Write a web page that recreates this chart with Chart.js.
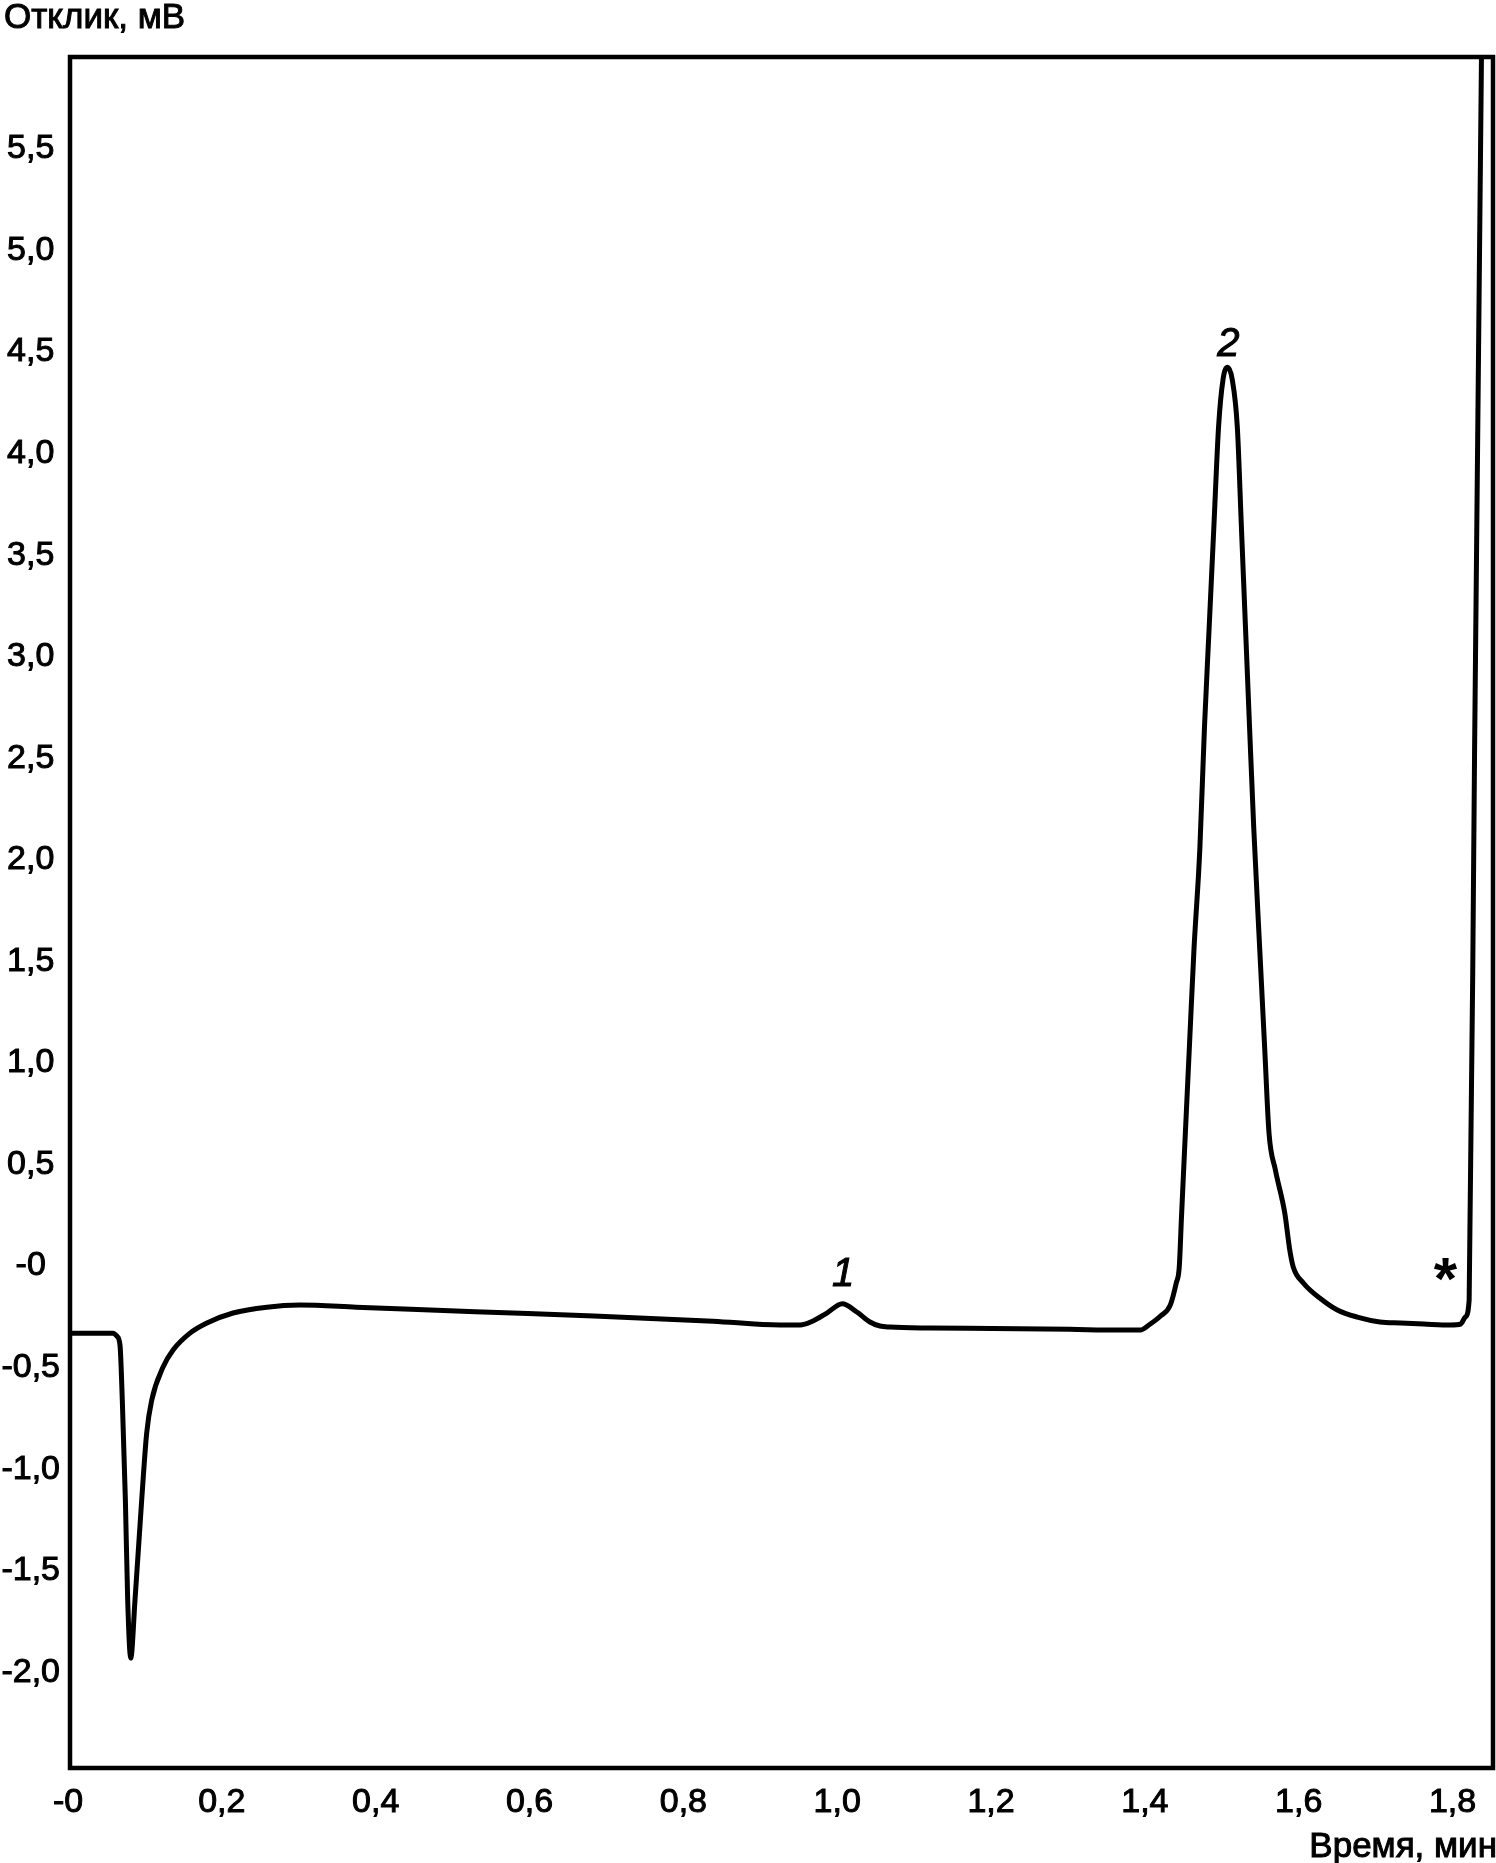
<!DOCTYPE html>
<html>
<head>
<meta charset="utf-8">
<title>Хроматограмма</title>
<script src="https://cdn.jsdelivr.net/npm/chart.js@4.4.1/dist/chart.umd.min.js"></script>
<style>
  html, body { margin: 0; padding: 0; background: #fff; }
  #wrap { width: 1496px; height: 1863px; }
</style>
</head>
<body>
<div id="wrap"><canvas id="chart" width="1496" height="1863"></canvas></div>
<script>
// ─── Data ────────────────────────────────────────────────────────────────────
const timeMin = [
  0, 0.039, 0.056, 0.061, 0.065, 0.068, 0.072, 0.075, 0.079, 0.0845,
  0.0932, 0.0997, 0.1062, 0.121, 0.134, 0.156, 0.178, 0.212, 0.256, 0.299,
  0.372, 0.527, 0.681, 0.836, 0.923, 0.949, 0.966, 0.984, 1.004, 1.023,
  1.040, 1.053, 1.066, 1.118, 1.200, 1.300, 1.360, 1.3914, 1.4044, 1.4174,
  1.4304, 1.4382, 1.4421, 1.4450, 1.4490, 1.4551, 1.4612, 1.4688, 1.4749, 1.4810,
  1.4871, 1.4932, 1.4990, 1.5050, 1.5110, 1.5176, 1.5229, 1.5282, 1.5335, 1.5389,
  1.5468, 1.5533, 1.5588, 1.5670, 1.5793, 1.5858, 1.5904, 1.6034, 1.6281, 1.6476,
  1.6736, 1.7030, 1.7300, 1.7600, 1.7950, 1.8080, 1.8140, 1.8190, 1.8260, 1.8350,
];
const responseMv = [
  -0.345, -0.345, -0.345, -0.360, -0.404, -0.675, -1.167, -1.660, -1.945, -1.660,
  -1.167, -0.837, -0.675, -0.512, -0.428, -0.345, -0.295, -0.246, -0.217, -0.207,
  -0.217, -0.240, -0.260, -0.286, -0.305, -0.305, -0.285, -0.246, -0.200, -0.241,
  -0.290, -0.310, -0.315, -0.320, -0.322, -0.326, -0.330, -0.330, -0.300, -0.262,
  -0.207, -0.098, -0.020, 0.226, 0.556, 1.049, 1.541, 2.033, 2.639, 3.131,
  3.624, 4.116, 4.350, 4.410, 4.350, 4.116, 3.624, 3.131, 2.639, 2.147,
  1.541, 1.049, 0.640, 0.460, 0.246, 0.064, -0.020, -0.098, -0.182, -0.231,
  -0.266, -0.290, -0.295, -0.300, -0.305, -0.300, -0.266, -0.182, 2.500, 5.938,
];

const xTicks = [0, 0.2, 0.4, 0.6, 0.8, 1.0, 1.2, 1.4, 1.6, 1.8];
const xTickLabels = ['-0', '0,2', '0,4', '0,6', '0,8', '1,0', '1,2', '1,4', '1,6', '1,8'];
const yTicks = [5.5, 5.0, 4.5, 4.0, 3.5, 3.0, 2.5, 2.0, 1.5, 1.0, 0.5, 0, -0.5, -1.0, -1.5, -2.0];
const yTickLabels = ['5,5', '5,0', '4,5', '4,0', '3,5', '3,0', '2,5', '2,0', '1,5', '1,0', '0,5', '-0', '-0,5', '-1,0', '-1,5', '-2,0'];

// peak marks: text and where it sits (time, response)
const peakNames = ['1', '2', '*'];
const peakNameTime = [1.005, 1.506, 1.788];
const peakNameResp = [-0.06, 4.52, -0.035];

const xTitle = 'Время, мин';
const yTitle = 'Отклик, мВ';

// ─── Style ───────────────────────────────────────────────────────────────────
const FONT = '"Liberation Sans", Arial, sans-serif';
const FONT_SIZE = 34;

function heavyText(ctx, text, x, y) {
  ctx.fillText(text, x, y);
  ctx.strokeText(text, x, y);
}

// frame round the plot + free texts
const framePlugin = {
  id: 'frame',
  afterDatasetsDraw(chart) {
    const { ctx, chartArea: a } = chart;
    ctx.save();
    ctx.strokeStyle = '#000';
    ctx.lineWidth = 4.5;
    ctx.strokeRect(a.left, a.top, a.right - a.left, a.bottom - a.top);
    ctx.restore();
  },
  afterDraw(chart) {
    const { ctx, scales } = chart;
    ctx.save();
    ctx.fillStyle = '#000';
    ctx.strokeStyle = '#000';
    ctx.lineWidth = 1;
    ctx.font = `35px ${FONT}`;
    ctx.textBaseline = 'alphabetic';
    ctx.textAlign = 'left';
    heavyText(ctx, yTitle, 4, 28);
    ctx.textAlign = 'right';
    heavyText(ctx, xTitle, 1497, 1857);

    ctx.textAlign = 'center';
    ctx.textBaseline = 'middle';
    peakNames.forEach((name, i) => {
      const x = scales.x.getPixelForValue(peakNameTime[i]);
      const y = scales.y.getPixelForValue(peakNameResp[i]);
      if (name === '*') {
        ctx.font = `bold 60px ${FONT}`;
        ctx.fillText(name, x, y + 12);
      } else {
        ctx.font = `italic 40px ${FONT}`;
        heavyText(ctx, name, x, y);
      }
    });
    ctx.restore();
  },
};

new Chart(document.getElementById('chart'), {
  type: 'line',
  data: {
    datasets: [{
      data: timeMin.map((t, i) => ({ x: t, y: responseMv[i] })),
      borderColor: '#000',
      borderWidth: 5,
      pointRadius: 0,
      fill: false,
      cubicInterpolationMode: 'monotone',
      borderJoinStyle: 'round',
      borderCapStyle: 'round',
    }],
  },
  options: {
    responsive: false,
    devicePixelRatio: 1,
    animation: false,
    layout: { padding: { top: 57, right: 3, left: 0, bottom: 0 } },
    plugins: { legend: { display: false }, tooltip: { enabled: false } },
    scales: {
      x: {
        type: 'linear',
        min: 0,
        max: 1.85,
        afterBuildTicks: s => { s.ticks = xTicks.map(v => ({ value: v })); },
        afterFit: s => { s.height = 95; },
        grid: { display: false, drawTicks: false },
        border: { display: false },
        ticks: {
          autoSkip: false,
          maxRotation: 0,
          padding: 14,
          labelOffset: -2,
          color: '#000',
          textStrokeColor: '#000',
          textStrokeWidth: 1,
          font: { family: FONT, size: FONT_SIZE },
          callback: (v, i) => xTickLabels[i],
        },
      },
      y: {
        type: 'linear',
        min: -2.486,
        max: 5.938,
        afterBuildTicks: s => { s.ticks = yTicks.map(v => ({ value: v })); },
        afterFit: s => { s.width = 70; },
        grid: { display: false, drawTicks: false },
        border: { display: false },
        ticks: {
          autoSkip: false,
          crossAlign: 'center',
          padding: 10,
          labelOffset: 3,
          color: '#000',
          textStrokeColor: '#000',
          textStrokeWidth: 1,
          font: { family: FONT, size: FONT_SIZE },
          callback: (v, i) => yTickLabels[i],
        },
      },
    },
  },
  plugins: [framePlugin],
});
</script>
</body>
</html>
